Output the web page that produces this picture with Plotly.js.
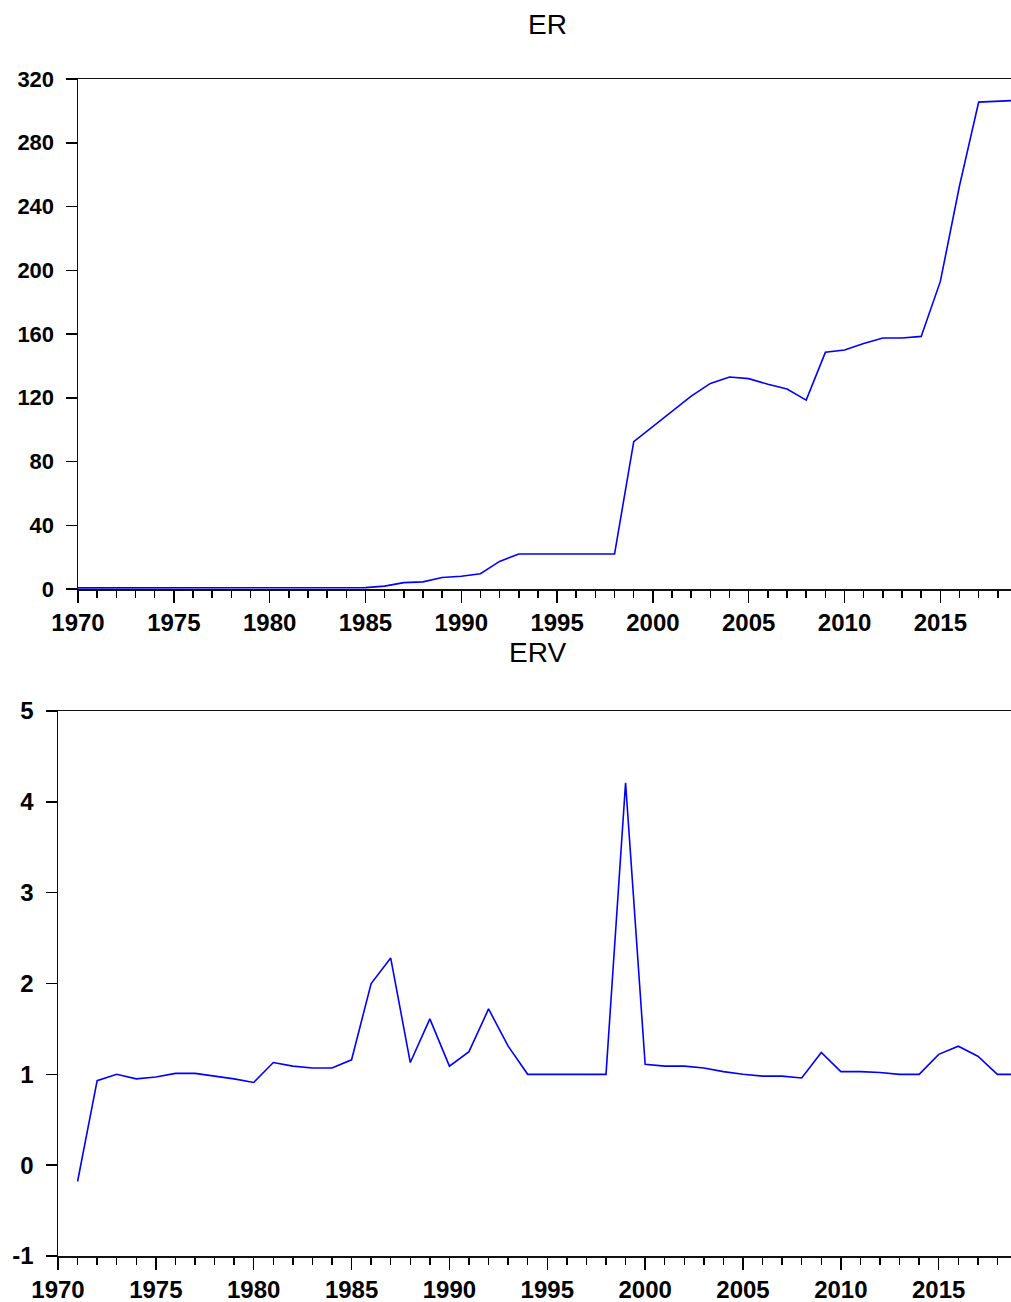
<!DOCTYPE html>
<html>
<head>
<meta charset="utf-8">
<script src="https://cdn.plot.ly/plotly-3.0.1.min.js"></script>
<style>
html,body{margin:0;padding:0;overflow:hidden;background:#fff;}
#chart{width:1018px;height:1302px;}
</style>
</head>
<body>
<div id="chart"></div>
<script>
var years = [1970,1971,1972,1973,1974,1975,1976,1977,1978,1979,
             1980,1981,1982,1983,1984,1985,1986,1987,1988,1989,
             1990,1991,1992,1993,1994,1995,1996,1997,1998,1999,
             2000,2001,2002,2003,2004,2005,2006,2007,2008,2009,
             2010,2011,2012,2013,2014,2015,2016,2017,2018,2019];

var erValues = [0.71,0.71,0.66,0.66,0.63,0.62,0.63,0.65,0.61,0.60,
                0.55,0.61,0.67,0.72,0.77,0.89,1.8,4.0,4.5,7.2,
                8.0,9.6,17.3,22.0,22.0,22.0,22.0,22.0,22.0,92.5,
                102.0,111.5,121.0,129.0,133.0,132.0,128.5,125.5,118.5,148.5,
                150.0,154.0,157.5,157.5,158.5,193.0,253.0,305.5,306.2,306.6];

var ervValues = [null,-0.18,0.93,1.00,0.95,0.97,1.01,1.01,0.98,0.95,
                 0.91,1.13,1.09,1.07,1.07,1.16,2.00,2.28,1.13,1.61,
                 1.09,1.25,1.72,1.31,1.00,1.00,1.00,1.00,1.00,4.21,
                 1.11,1.09,1.09,1.07,1.03,1.00,0.98,0.98,0.96,1.24,
                 1.03,1.03,1.02,1.00,1.00,1.22,1.31,1.20,1.00,1.00];

var erTicks = [0,40,80,120,160,200,240,280,320];
var ervTicks = [-1,0,1,2,3,4,5];
var yearTicks = [1970,1975,1980,1985,1990,1995,2000,2005,2010,2015];

var W = 1018, H = 1302;
function px(x){return x/W;}
function py(y){return (H-y)/H;}

var FAM = 'Liberation Sans, Arial, sans-serif';
var tickFontX = {family:FAM, size:24, color:'#000', weight:700};
var tickFontYTop = {family:FAM, size:22, color:'#000', weight:700};
var tickFontYBot = {family:FAM, size:24, color:'#000', weight:700};

var traces = [
  {x: years, y: erValues, type:'scatter', mode:'lines', xaxis:'x', yaxis:'y',
   line:{color:'#0000FF', width:1.6}, hoverinfo:'x+y', showlegend:false},
  {x: years, y: ervValues, type:'scatter', mode:'lines', xaxis:'x2', yaxis:'y2',
   line:{color:'#0000FF', width:1.6}, hoverinfo:'x+y', showlegend:false}
];

function xAxis(domain, anchor){
  return {
    domain: domain, anchor: anchor, range:[1970, 2019],
    tickmode:'array', tickvals: yearTicks, ticktext: yearTicks.map(String),
    ticks:'outside', ticklen:12, tickwidth:1.5, tickcolor:'#000',
    minor:{tickmode:'linear', tick0:1970, dtick:1, ticks:'outside', ticklen:7, tickwidth:1.5, tickcolor:'#000', showgrid:false},
    showline:true, linecolor:'#111', linewidth:1.5, mirror:true,
    showgrid:false, zeroline:false, automargin:false,
    tickfont: tickFontX, fixedrange:true
  };
}
function yAxis(domain, anchor, range, ticks, font){
  return {
    domain: domain, anchor: anchor, range: range,
    tickmode:'array', tickvals: ticks, ticktext: ticks.map(String),
    ticks:'outside', ticklen:11, tickwidth:1.5, tickcolor:'#000',
    ticklabelstandoff: 7,
    showline:true, linecolor:'#111', linewidth:1.5, mirror:true,
    showgrid:false, zeroline:false, automargin:false,
    tickfont: font, fixedrange:true
  };
}

var layout = {
  width: W, height: H,
  margin:{l:0, r:0, t:0, b:0, pad:0},
  paper_bgcolor:'#fff', plot_bgcolor:'#fff',
  showlegend:false,
  xaxis: xAxis([px(78), px(1017)], 'y'),
  yaxis: yAxis([py(589), py(79)], 'x', [0, 320], erTicks, tickFontYTop),
  xaxis2: xAxis([px(58), px(1017)], 'y2'),
  yaxis2: yAxis([py(1256), py(711)], 'x2', [-1, 5], ervTicks, tickFontYBot),
  annotations:[
    {text:'ER', xref:'paper', yref:'paper', x:px(547), y:py(24), xanchor:'center', yanchor:'middle',
     showarrow:false, font:{family:FAM, size:28, color:'#000'}},
    {text:'ERV', xref:'paper', yref:'paper', x:px(537), y:py(652), xanchor:'center', yanchor:'middle',
     showarrow:false, font:{family:FAM, size:28, color:'#000'}}
  ]
};

Plotly.newPlot('chart', traces, layout, {displayModeBar:false, staticPlot:true});
</script>
</body>
</html>
